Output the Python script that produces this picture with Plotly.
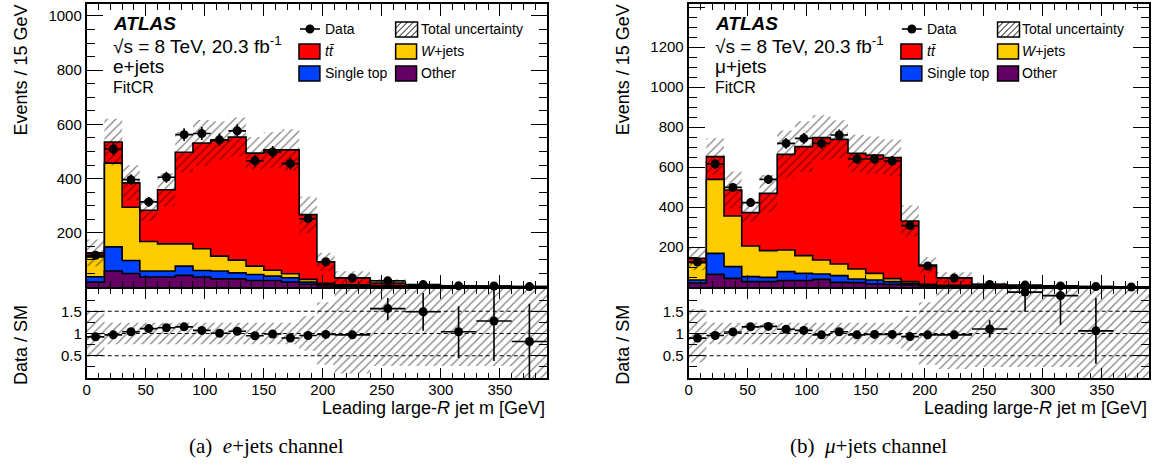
import numpy as np
import plotly.graph_objects as go

W, H = 1161, 467
SANS = "Liberation Sans, Arial, sans-serif"
SERIF = "Liberation Serif, Times New Roman, serif"

# binning (GeV)
edges = [0, 15, 30, 45, 60, 75, 90, 105, 120, 135, 150, 165, 180, 195, 210,
         240, 270, 300, 330, 360, 390]

# ---- e+jets ----
e_data = [117, 509, 396, 314, 405, 562, 566, 543, 576, 466, 498, 455, 252, 93,
          33, 22.6, 9, 4.2, 3.8, 1.6]
e_ttbar = [15, 78, 90, 115, 200, 338, 390, 427, 454, 417, 444, 457, 239, 79,
           26, 9.5, 3.4, 2, 1.7, 1]
e_wjets = [73, 309, 196, 109, 100, 82, 80, 55, 47, 31, 22, 15, 10, 5,
           3, 2, 1, 0.7, 0.5, 0.4]
e_single_top = [20, 89, 48, 22, 22, 34, 24, 29, 22, 22, 16, 16, 8, 4,
                2, 1, 0.6, 0.5, 0.3, 0.2]
e_other = [18, 59, 50, 37, 37, 43, 37, 30, 30, 24, 24, 18, 10, 5,
           3, 2, 1, 0.8, 0.5, 0.4]
e_unc = [0.39, 0.16, 0.17, 0.14, 0.17, 0.15, 0.16, 0.13, 0.13, 0.12, 0.13, 0.15,
         0.25, 0.36, 0.7, 1.0, 1.0, 1.0, 1.0, 1.0]
e_ratio = [0.925, 0.97, 1.04, 1.11, 1.13, 1.15, 1.07, 1.005, 1.05, 0.95, 0.99, 0.9,
           0.955, 0.98, 0.97, 1.56, 1.49, 1.04, 1.28, 0.82]
e_ratio_up = [0.03] * 15 + [0.24, 0.42, 0.57, 0.70, 0.85]
e_ratio_dn = [0.03] * 15 + [0.26, 0.43, 0.59, 0.90, 0.82]
e_band_lo = [0.5] + [0.76] * 11 + [0.61, 0.3, 0.1, 0.27, 0.27, 0.27, 0.27, 0.0]
e_band_hi = [1.5] + [1.24] * 11 + [1.39, 1.7, 2.0, 2.0, 2.0, 2.0, 2.0, 2.0]

# ---- mu+jets ----
m_data = [125, 615, 498, 422, 538, 718, 743, 718, 760, 640, 640, 630, 307, 105,
          45, 13, 9.5, 5.5, 2, 0]
m_ttbar = [21, 114, 130, 167, 286, 478, 545, 612, 623, 578, 592, 605, 303, 96,
           38, 8, 2.8, 1.6, 0.9, 0.7]
m_wjets = [87, 370, 253, 153, 134, 108, 89, 70, 58, 50, 33, 15, 9, 5,
           3, 1.5, 0.8, 0.5, 0.4, 0.3]
m_single_top = [15, 105, 59, 25, 21, 45, 36, 27, 34, 18, 20, 14, 8, 4,
                2, 1, 0.6, 0.4, 0.3, 0.2]
m_other = [20, 63, 43, 27, 27, 32, 32, 38, 23, 22, 15, 13, 10, 5,
           3, 1.5, 0.8, 0.5, 0.4, 0.3]
m_unc = [0.41, 0.14, 0.19, 0.12, 0.2, 0.18, 0.18, 0.15, 0.13, 0.14, 0.14, 0.14,
         0.24, 0.35, 0.6, 1.0, 1.0, 1.0, 1.0, 1.0]
m_ratio = [0.896, 0.955, 1.035, 1.15, 1.16, 1.096, 1.07, 0.97, 1.04, 0.97, 0.98, 0.98,
           0.93, 0.97, 0.97, 1.1, 1.93, 1.85, 1.06, None]
m_ratio_up = [0.03] * 15 + [0.2, 0.6, 0.6, 0.74, 0]
m_ratio_dn = [0.03] * 15 + [0.19, 0.44, 0.66, 0.74, 0]
m_band_lo = [0.35] + [0.76] * 11 + [0.61, 0.3, 0.2, 0.25, 0.25, 0.25, 0.0, 0.0]
m_band_hi = [1.55] + [1.24] * 11 + [1.39, 1.7, 2.0, 2.0, 2.0, 2.0, 2.0, 2.0]

main_ticks_e = [200, 400, 600, 800, 1000]
main_ticks_m = [200, 400, 600, 800, 1000, 1200, 1400]
ratio_ticks = [0.5, 1, 1.5]
ratio_ticklabels = ["0.5", "1", "1.5"]
x_ticks = [0, 50, 100, 150, 200, 250, 300, 350]

C_TT, C_W, C_ST, C_OTH = "#ff0000", "#ffcc00", "#0040ff", "#640064"


def px(x):
    return x / W


def py(y):
    return 1 - y / H


edges_a = np.array(edges, dtype=float)
centers = (edges_a[:-1] + edges_a[1:]) / 2
halfw = (edges_a[1:] - edges_a[:-1]) / 2

fig = go.Figure()
# ROOT-like 3004 hatch: thin 45 degree lines ~8px apart
hatch = dict(shape="/", fgcolor="black", bgcolor="rgba(0,0,0,0)", size=6, solidity=0.2)


def step(vals):
    v = list(vals)
    return v + [v[-1]]


def add_panel(ax_main, ax_ratio, data, tt, wj, st, oth, unc, ratio, r_up, r_dn, b_lo, b_hi):
    xm, ym = ax_main
    xr, yr = ax_ratio
    oth = np.array(oth, float)
    c_st = oth + np.array(st, float)
    c_w = c_st + np.array(wj, float)
    c_tt = c_w + np.array(tt, float)
    for cum, col in [(c_tt, C_TT), (c_w, C_W), (c_st, C_ST), (oth, C_OTH)]:
        fig.add_trace(go.Scatter(x=edges, y=step(cum), xaxis=xm, yaxis=ym, mode="lines",
                                 line=dict(shape="hv", color="black", width=1.6),
                                 fill="tozeroy", fillcolor=col, showlegend=False,
                                 hoverinfo="skip"))
    u = np.array(unc, float)
    lo = c_tt * (1 - u)
    hi = c_tt * (1 + u)
    fig.add_trace(go.Scatter(x=edges, y=step(lo), xaxis=xm, yaxis=ym, mode="lines",
                             line=dict(shape="hv", width=0), showlegend=False, hoverinfo="skip"))
    fig.add_trace(go.Scatter(x=edges, y=step(hi), xaxis=xm, yaxis=ym, mode="lines",
                             line=dict(shape="hv", width=0), fill="tonexty",
                             fillcolor="rgba(0,0,0,0)", fillpattern=hatch,
                             showlegend=False, hoverinfo="skip"))
    d = np.array(data, float)
    fig.add_trace(go.Scatter(x=centers, y=d, xaxis=xm, yaxis=ym, mode="markers",
                             marker=dict(color="black", size=9), cliponaxis=False,
                             error_x=dict(type="data", array=halfw, width=0, thickness=1.6, color="black"),
                             error_y=dict(type="data", array=np.sqrt(d), width=0, thickness=1.6, color="black"),
                             showlegend=False))
    # ratio panel
    fig.add_trace(go.Scatter(x=edges, y=step(b_lo), xaxis=xr, yaxis=yr, mode="lines",
                             line=dict(shape="hv", width=0), showlegend=False, hoverinfo="skip"))
    fig.add_trace(go.Scatter(x=edges, y=step(b_hi), xaxis=xr, yaxis=yr, mode="lines",
                             line=dict(shape="hv", width=0), fill="tonexty",
                             fillcolor="rgba(0,0,0,0)", fillpattern=hatch,
                             showlegend=False, hoverinfo="skip"))
    for lvl in ratio_ticks:
        fig.add_shape(type="line", xref=xr, yref=yr, x0=edges[0], x1=edges[-1], y0=lvl, y1=lvl,
                      line=dict(color="black", width=1, dash="4px,3px"))
    fig.add_trace(go.Scatter(x=centers, y=ratio, xaxis=xr, yaxis=yr, mode="markers",
                             marker=dict(color="black", size=9),
                             error_x=dict(type="data", array=halfw, width=0, thickness=1.6, color="black"),
                             error_y=dict(type="data", array=r_up, arrayminus=r_dn, width=0,
                                          thickness=1.6, color="black"),
                             showlegend=False))


add_panel(("x", "y"), ("x2", "y2"), e_data, e_ttbar, e_wjets, e_single_top, e_other,
          e_unc, e_ratio, e_ratio_up, e_ratio_dn, e_band_lo, e_band_hi)
add_panel(("x3", "y3"), ("x4", "y4"), m_data, m_ttbar, m_wjets, m_single_top, m_other,
          m_unc, m_ratio, m_ratio_up, m_ratio_dn, m_band_lo, m_band_hi)

# panel geometry in pixels
PANELS = [83, 687]
PW = 462
MAIN_Y = (4, 287)
RAT_Y = (289, 378)

tickfont = dict(family=SANS, size=15, color="black")
axis_common = dict(showline=True, linecolor="black", linewidth=1.8, mirror="ticks",
                   ticks="inside", tickcolor="black", tickwidth=1.3, showgrid=False,
                   zeroline=False, tickfont=tickfont)

layout_axes = {}
for i, x0 in enumerate(PANELS):
    n_main = 2 * i + 1
    n_rat = 2 * i + 2
    dom_x = [px(x0), px(x0 + PW)]
    sfx_m = "" if n_main == 1 else str(n_main)
    sfx_r = str(n_rat)
    ytop = [1044, 1415][i]
    yt = [main_ticks_e, main_ticks_m][i]
    layout_axes["xaxis" + sfx_m] = dict(axis_common, domain=dom_x, range=[0, 390], anchor="y" + sfx_m,
                                        tickvals=x_ticks, showticklabels=False, ticklen=12,
                                        minor=dict(dtick=10, tick0=0, ticklen=6, ticks="inside",
                                                   tickcolor="black"))
    layout_axes["yaxis" + sfx_m] = dict(axis_common, domain=[py(MAIN_Y[1]), py(MAIN_Y[0])],
                                        range=[0, ytop], anchor="x" + sfx_m,
                                        tickvals=yt, ticklen=16,
                                        minor=dict(dtick=50, tick0=0, ticklen=8, ticks="inside",
                                                   tickcolor="black"))
    layout_axes["xaxis" + sfx_r] = dict(axis_common, domain=dom_x, range=[0, 390], anchor="y" + sfx_r,
                                        tickvals=x_ticks, ticklen=10, ticklabelstandoff=-3,
                                        minor=dict(dtick=10, tick0=0, ticklen=5, ticks="inside",
                                                   tickcolor="black"))
    layout_axes["yaxis" + sfx_r] = dict(axis_common, domain=[py(RAT_Y[1]), py(RAT_Y[0])],
                                        range=[0, 2], anchor="x" + sfx_r,
                                        tickvals=ratio_ticks, ticktext=ratio_ticklabels, ticklen=16,
                                        minor=dict(dtick=0.25, tick0=0, ticklen=8, ticks="inside",
                                                   tickcolor="black"))

fig.update_layout(width=W, height=H, margin=dict(l=0, r=0, t=0, b=0),
                  plot_bgcolor="white", paper_bgcolor="white", showlegend=False,
                  **layout_axes)


def text(x, y, s, size, xanchor="left", yanchor="middle", family=SANS, angle=0):
    fig.add_annotation(x=px(x), y=py(y), xref="paper", yref="paper", text=s, showarrow=False,
                       xanchor=xanchor, yanchor=yanchor, textangle=angle,
                       font=dict(family=family, size=size, color="black"))


def box(x0, y0, x1, y1, color):
    fig.add_shape(type="rect", xref="paper", yref="paper", x0=px(x0), x1=px(x1), y0=py(y1), y1=py(y0),
                  fillcolor=color, line=dict(color="black", width=1.5))


def hatch_box(x0, y0, x1, y1, gap=6):
    box(x0, y0, x1, y1, "white")
    h = y1 - y0
    c = -h
    while c < x1 - x0:
        sx, sy = x0 + c, y1
        ex, ey = x0 + c + h, y0
        if sx < x0:
            sy -= (x0 - sx)
            sx = x0
        if ex > x1:
            ey += (ex - x1)
            ex = x1
        fig.add_shape(type="line", xref="paper", yref="paper", x0=px(sx), y0=py(sy), x1=px(ex), y1=py(ey),
                      line=dict(color="black", width=1))
        c += gap


channels = ["e+jets", "\u03bc+jets"]
captions = ["(a)  <i>e</i>+jets channel", "(b)  <i>\u03bc</i>+jets channel"]
for i, x0 in enumerate(PANELS):
    text(x0 + 24, 23, "<b><i>ATLAS</i></b>", 19)
    text(x0 + 24, 45, "\u221as = 8 TeV, 20.3 fb<sup>-1</sup>", 19)
    text(x0 + 24, 67, channels[i], 19)
    text(x0 + 24, 88, "FitCR", 16)
    # legend
    fig.add_shape(type="line", xref="paper", yref="paper", x0=px(x0 + 214), x1=px(x0 + 234),
                  y0=py(29), y1=py(29), line=dict(color="black", width=1.6))
    fig.add_shape(type="circle", xref="paper", yref="paper", x0=px(x0 + 219.5), x1=px(x0 + 228.5),
                  y0=py(33.5), y1=py(24.5), fillcolor="black", line=dict(width=0))
    text(x0 + 237, 29, "Data", 14)
    hatch_box(x0 + 310, 22, x0 + 332, 37)
    text(x0 + 333, 29, "Total uncertainty", 14)
    box(x0 + 213, 44, x0 + 234, 59, C_TT)
    text(x0 + 237, 51, "<i>t</i><i>t\u0304</i>", 14)
    box(x0 + 310, 44, x0 + 331, 59, C_W)
    text(x0 + 333, 51, "<i>W</i>+jets", 14)
    box(x0 + 213, 66, x0 + 234, 81, C_ST)
    text(x0 + 237, 73, "Single top", 14)
    box(x0 + 310, 66, x0 + 331, 81, C_OTH)
    text(x0 + 333, 73, "Other", 14)
    # axis titles
    text(x0 - 66, 2, "Events / 15 GeV", 18, xanchor="center", yanchor="top", angle=-90)
    text(x0 - 66, 345, "Data / SM", 18, xanchor="center", yanchor="middle", angle=-90)
    text(x0 + PW, 408, "Leading large-<i>R</i> jet m [GeV]", 18, xanchor="right")
    text(x0 + 180, 446, captions[i], 21, xanchor="center", family=SERIF)

# the page's default body margin would shift the figure by 8px
fig.write_html("out.html", config={"displayModeBar": False},
               post_script="document.body.style.margin='0';")
